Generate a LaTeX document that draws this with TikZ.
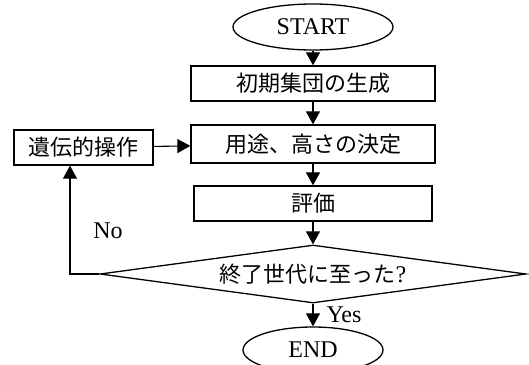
\documentclass[tikz,border=0pt]{standalone}
\usepackage{fontspec}
\setmainfont{Liberation Serif}
\newfontfamily\jp{Noto Sans CJK JP}
\usetikzlibrary{shapes.geometric,arrows.meta}
\begin{document}
\begin{tikzpicture}[x=1pt,y=-1pt,
  every node/.style={inner sep=0pt},
  ltext/.style={font=\fontsize{24}{28}\selectfont},
  jtext/.style={font=\fontsize{22}{26}\selectfont\jp},
  proc/.style={draw, line width=1.3pt, rectangle, jtext},
  term/.style={draw, line width=1.3pt, ellipse, ltext},
  dec/.style={draw, line width=1.3pt, diamond, shape aspect=7.3, jtext},
  arr/.style={line width=1.1pt, -{Triangle[width=14pt,length=13pt]}},
  lbl/.style={ltext}
]
\useasboundingbox (0,0) rectangle (529,364);
\node[term, minimum width=160pt, minimum height=46pt] (start) at (313,27) {START};
\node[proc, minimum width=244pt, minimum height=35pt] (init) at (313,83.5) {初期集団の生成};
\node[proc, minimum width=244pt, minimum height=38pt] (use) at (313,144) {用途、高さの決定};
\node[proc, minimum width=139pt, minimum height=35pt] (gen) at (83.5,147.5) {遺伝的操作};
\node[proc, minimum width=238pt, minimum height=35pt] (eval) at (313,203.5) {評価};
\node[dec, minimum width=426pt, minimum height=58pt] (cond) at (313,274) {終了世代に至った{\rmfamily\fontsize{24}{28}\selectfont ?}};
\node[term, minimum width=140pt, minimum height=46pt] (end) at (313,350) {END};
\coordinate (loop) at (70,274);
\draw[arr] (start) -- (init);
\draw[arr] (init) -- (use);
\draw[arr] (use) -- (eval);
\draw[arr] (eval) -- (cond);
\draw[arr] (cond) -- (end);
\draw[arr] (gen) -- (use);
\draw[arr] (cond.west) -- (loop) -- (loop |- gen.south);
\node[lbl] (no) at (108,231) {No};
\node[lbl] (yes) at (344,315) {Yes};
\end{tikzpicture}
\end{document}
